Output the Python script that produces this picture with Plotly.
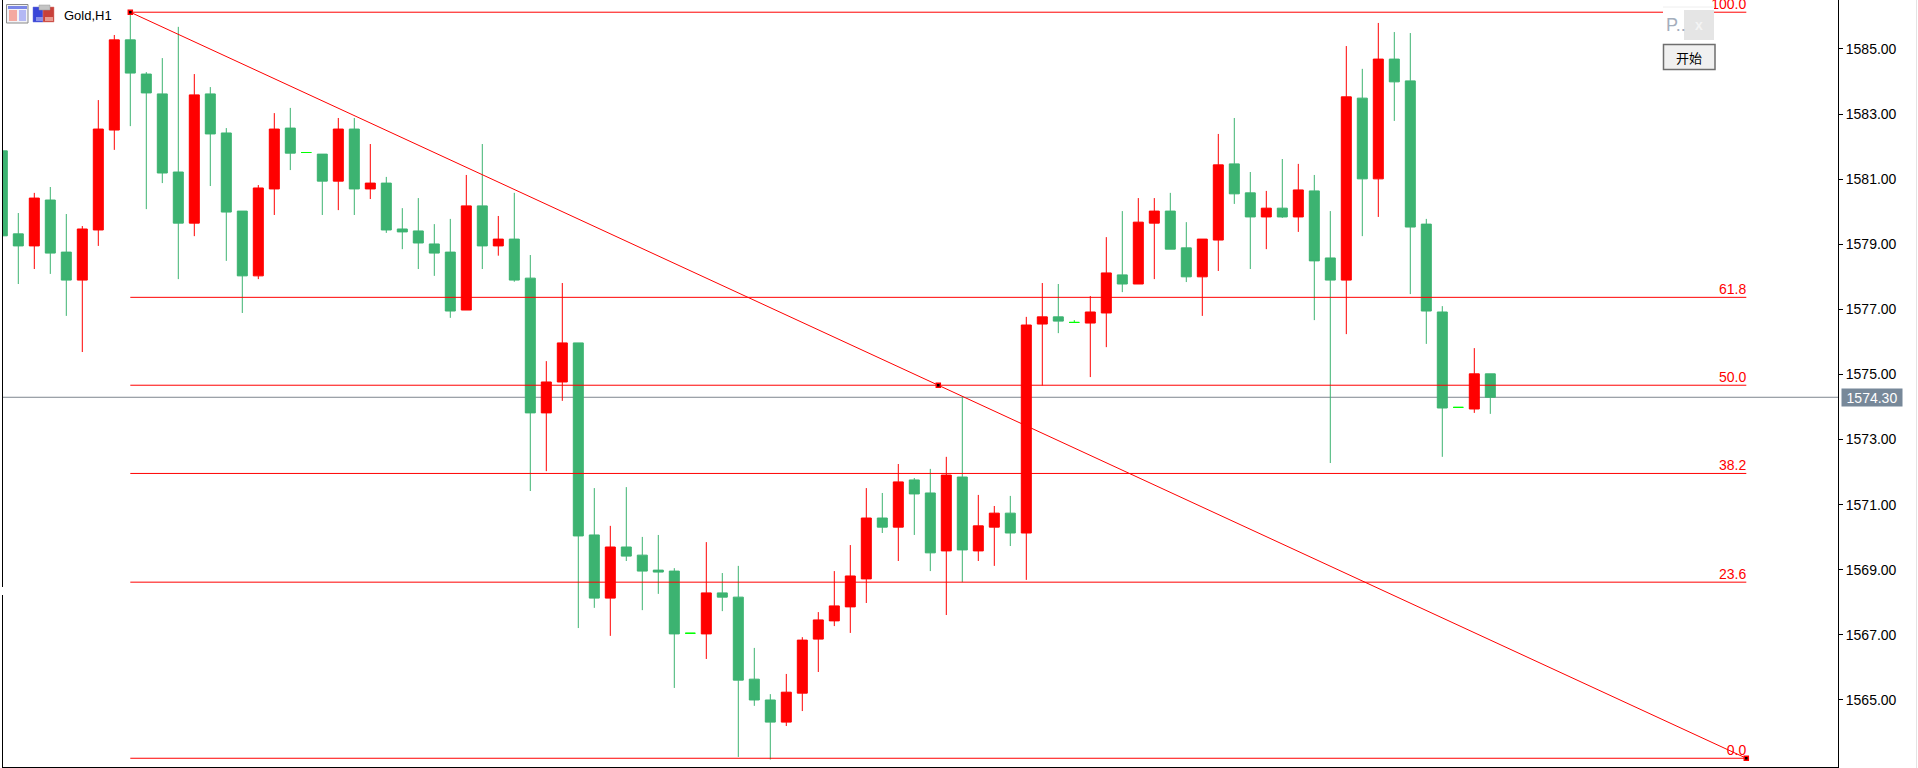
import plotly.graph_objects as go

# ---------- data ----------
bar_open = [1581.87,1579.32,1578.95,1580.36,1578.76,1577.90,1579.44,1582.51,1585.28,1584.23,
            1583.62,1581.22,1579.65,1583.62,1582.42,1580.02,1578.03,1580.70,1582.57,1581.82,
            1581.77,1580.94,1582.54,1580.70,1580.88,1579.47,1579.41,1579.01,1578.76,1576.98,
            1580.18,1578.95,1579.16,1577.96,1573.82,1574.77,1575.97,1570.07,1568.13,1569.70,
            1569.45,1568.99,1568.96,1567.05,1567.03,1568.29,1568.16,1565.64,1565.00,1564.32,
            1565.21,1566.87,1567.43,1567.86,1568.72,1570.59,1570.31,1571.76,1571.36,1569.58,
            1571.85,1569.58,1570.31,1570.74,1570.13,1576.55,1576.77,1576.60,1576.58,1576.89,
            1578.06,1577.78,1579.65,1580.02,1578.89,1578.00,1579.13,1581.47,1580.58,1579.84,
            1580.11,1579.84,1580.64,1578.58,1577.90,1583.49,1581.01,1584.69,1584.02,1579.62,
            1576.92,1573.99,1573.94,1575.02]
bar_high = [1581.87,1579.96,1580.58,1580.76,1579.93,1579.56,1583.43,1585.43,1586.13,1584.29,
            1584.72,1585.68,1584.23,1583.83,1582.57,1580.02,1580.82,1583.03,1583.19,1581.82,
            1581.77,1582.88,1582.88,1582.08,1581.07,1580.11,1580.42,1579.62,1579.78,1581.13,
            1582.08,1579.87,1580.58,1578.67,1575.41,1577.81,1575.97,1571.51,1570.35,1571.54,
            1570.01,1570.07,1569.05,1567.05,1569.85,1568.90,1569.12,1566.60,1565.18,1565.80,
            1566.93,1567.70,1568.96,1569.76,1571.51,1571.36,1572.25,1571.82,1572.10,1572.47,
            1574.32,1571.30,1570.96,1571.27,1576.77,1577.81,1577.78,1576.67,1577.41,1579.22,
            1580.02,1580.42,1580.42,1580.58,1579.68,1579.16,1582.39,1582.88,1581.22,1580.64,
            1581.62,1581.47,1581.13,1580.02,1585.09,1584.39,1585.80,1585.52,1585.49,1579.78,
            1577.10,1573.99,1575.81,1575.02]
bar_low = [1579.26,1577.78,1578.24,1578.09,1576.80,1575.69,1578.95,1581.90,1582.63,1580.08,
           1580.88,1577.93,1579.25,1580.79,1578.49,1576.89,1577.93,1579.90,1581.28,1581.82,
           1579.90,1580.05,1579.90,1580.39,1579.35,1578.85,1578.24,1578.03,1576.74,1576.98,
           1578.24,1578.65,1577.85,1571.42,1572.03,1574.19,1567.21,1567.83,1566.97,1569.27,
           1567.76,1568.26,1565.37,1567.05,1566.26,1567.73,1563.25,1564.82,1563.17,1564.20,
           1564.66,1565.86,1567.27,1567.06,1567.98,1570.13,1569.27,1570.07,1568.96,1567.61,
           1568.62,1569.27,1569.12,1569.73,1568.69,1574.66,1576.27,1576.60,1574.92,1575.84,
           1577.53,1577.78,1577.93,1578.85,1577.84,1576.80,1578.18,1580.24,1578.24,1578.85,
           1579.81,1579.38,1576.67,1572.28,1576.24,1579.25,1579.84,1582.79,1577.47,1575.94,
           1572.47,1573.99,1573.82,1573.79]
bar_close = [1579.26,1578.95,1580.42,1578.73,1577.90,1579.47,1582.54,1585.28,1584.26,1583.65,
             1581.19,1579.65,1583.59,1582.39,1579.99,1578.03,1580.73,1582.54,1581.80,1581.82,
             1580.94,1582.54,1580.70,1580.88,1579.44,1579.38,1579.04,1578.73,1576.95,1580.18,
             1578.95,1579.16,1577.90,1573.82,1574.77,1575.97,1570.04,1568.13,1569.70,1569.42,
             1568.96,1568.93,1567.03,1567.05,1568.29,1568.16,1565.61,1565.00,1564.32,1565.24,
             1566.84,1567.46,1567.89,1568.81,1570.59,1570.31,1571.70,1571.33,1569.52,1571.91,
             1569.61,1570.35,1570.74,1570.13,1576.52,1576.77,1576.64,1576.60,1576.92,1578.12,
             1577.78,1579.68,1580.02,1578.85,1578.00,1579.16,1581.44,1580.55,1579.84,1580.11,
             1579.84,1580.67,1578.49,1577.90,1583.53,1581.01,1584.69,1583.99,1579.53,1576.95,
             1573.97,1573.99,1575.02,1574.30]

fib_labels = ["100.0", "61.8", "50.0", "38.2", "23.6", "0.0"]
fib_values = [1586.13, 1577.37, 1574.67, 1571.96, 1568.62, 1563.21]
fib_start_bar = 8
fib_mid_bar = 58.5
fib_end_bar = 109
y_ticks = [1565, 1567, 1569, 1571, 1573, 1575, 1577, 1579, 1581, 1583, 1585]
current_price = 1574.30

RED = "#FF0000"
GREEN = "#3CB371"
LIME = "#00FF00"
FONT = "Liberation Sans"

# page geometry
W, H = 1918, 768
ML, MR, MT, MB = 3, 80, 0, 1
PW, PH = W - ML - MR, H - MT - MB


def px(x):
    return (x - ML) / PW


def py(y):
    return 1 - (y - MT) / PH


bars = list(range(len(bar_open)))
regular = [i for i in bars if bar_open[i] != bar_close[i]]
doji = [i for i in bars if bar_open[i] == bar_close[i]]

fig = go.Figure()
fig.add_trace(go.Candlestick(
    x=regular,
    open=[bar_open[i] for i in regular], high=[bar_high[i] for i in regular],
    low=[bar_low[i] for i in regular], close=[bar_close[i] for i in regular],
    increasing=dict(line=dict(color=RED, width=1), fillcolor=RED),
    decreasing=dict(line=dict(color=GREEN, width=1), fillcolor=GREEN),
    whiskerwidth=0, hoverinfo="skip", showlegend=False))
fig.add_trace(go.Candlestick(
    x=doji,
    open=[bar_open[i] for i in doji], high=[bar_high[i] for i in doji],
    low=[bar_low[i] for i in doji], close=[bar_close[i] for i in doji],
    increasing=dict(line=dict(color=LIME, width=1), fillcolor=LIME),
    decreasing=dict(line=dict(color=LIME, width=1), fillcolor=LIME),
    whiskerwidth=0, hoverinfo="skip", showlegend=False))

# Fibonacci levels
for label, value in zip(fib_labels, fib_values):
    fig.add_trace(go.Scatter(x=[fib_start_bar, fib_end_bar], y=[value, value], mode="lines",
                             line=dict(color=RED, width=1), hoverinfo="skip", showlegend=False))
fig.add_trace(go.Scatter(x=[fib_end_bar] * len(fib_values), y=fib_values, mode="text",
                         text=fib_labels, textposition="top left",
                         textfont=dict(family=FONT, size=14, color=RED),
                         hoverinfo="skip", showlegend=False))
# trend line and its anchors
fig.add_trace(go.Scatter(x=[fib_start_bar, fib_end_bar], y=[fib_values[0], fib_values[-1]], mode="lines",
                         line=dict(color=RED, width=1), hoverinfo="skip", showlegend=False))
fig.add_trace(go.Scatter(x=[fib_start_bar, fib_mid_bar, fib_end_bar],
                         y=[fib_values[0], fib_values[2], fib_values[-1]], mode="markers",
                         marker=dict(symbol="square", size=4, color="#000000",
                                     line=dict(color=RED, width=1.5)),
                         hoverinfo="skip", showlegend=False))

shapes = []


def rect(x0, y0, x1, y1, fill, line=None, lw=0, layer="above"):
    shapes.append(dict(type="rect", xref="paper", yref="paper", layer=layer,
                       x0=px(x0), x1=px(x1), y0=py(y1), y1=py(y0), fillcolor=fill,
                       line=dict(color=line or fill, width=lw)))


def vline(x, y0, y1, color, lw=1):
    shapes.append(dict(type="line", xref="paper", yref="paper", x0=px(x), x1=px(x),
                       y0=py(y0), y1=py(y1), line=dict(color=color, width=lw)))


# current price line sits behind the candles
shapes.append(dict(type="line", xref="paper", yref="y", x0=0, x1=1, y0=current_price, y1=current_price,
                   layer="below", line=dict(color="#7F878F", width=1)))
# left spine with its gap, right edge rule
vline(2.5, 0, 587, "#000000", 1)
vline(2.5, 595, 768, "#000000", 1)
vline(1916.5, 0, 768, "#E4E4E4", 1)

# chart-window icons
rect(6.5, 4.5, 28, 23, "#F2F2F6", "#8A8A8A", 1)
rect(8, 6, 27, 9, "#7A86E8")
rect(9, 10, 17, 21, "#F4A9A0")
rect(19, 10, 26, 21, "#B4B8F4")
rect(33, 7, 43, 22, "#3A46D8", "#6A70D8", 0.5)
rect(43, 7, 54, 22, "#C8403A", "#D88078", 0.5)
rect(39, 5, 50, 10, "#C4C4C4", "#9A9A9A", 0.5)
rect(36, 17, 43, 21, "#8A90E8")
rect(45, 17, 53, 21, "#E89A90")

# small panel and button
rect(1663, 7, 1714, 41, "#FFFFFF")
shapes.append(dict(type="line", xref="paper", yref="paper", x0=px(1663), x1=px(1714),
                   y0=py(7), y1=py(7), line=dict(color="#EEEEEE", width=1)))
rect(1684, 10, 1714, 40, "#E5E5E5")
rect(1663.5, 44.5, 1715, 69.5, "#F0F0F0", "#6E6E6E", 1.5)

annotations = [
    dict(xref="paper", yref="paper", x=px(62), y=py(15), text="Gold,H1", showarrow=False, xanchor="left",
         yanchor="middle", font=dict(family=FONT, size=13, color="#000000")),
    dict(xref="paper", yref="paper", x=px(1664), y=py(25), text="P..", showarrow=False, xanchor="left",
         yanchor="middle", font=dict(family=FONT, size=18, color="#A4AEBC")),
    dict(xref="paper", yref="paper", x=px(1699), y=py(25), text="<b>x</b>", showarrow=False, xanchor="center",
         yanchor="middle", font=dict(family=FONT, size=14, color="#F4F4F4")),
    dict(xref="paper", yref="paper", x=px(1689), y=py(57), text="开始", showarrow=False, xanchor="center",
         yanchor="middle", font=dict(family="Noto Sans CJK SC", size=13, color="#000000")),
    dict(xref="paper", yref="y", x=px(1872), y=current_price, text="%.2f" % current_price, showarrow=False,
         width=60, height=17, bgcolor="#778899", borderpad=0, xanchor="center", yanchor="middle",
         font=dict(family=FONT, size=14, color="#FFFFFF")),
]

fig.update_layout(
    width=W, height=H, autosize=False,
    margin=dict(l=ML, r=MR, t=MT, b=MB, pad=0),
    paper_bgcolor="#FFFFFF", plot_bgcolor="#FFFFFF",
    showlegend=False, boxmode="overlay", boxgap=0.375, boxgroupgap=0, dragmode=False,
    shapes=shapes, annotations=annotations,
    xaxis=dict(range=[(ML - 2.3) / 16, (W - MR - 2.3) / 16], showgrid=False, zeroline=False,
               showticklabels=False, ticks="", showline=True, linecolor="#000000", linewidth=1,
               rangeslider=dict(visible=False), fixedrange=True),
    yaxis=dict(range=[1586.505 - 767 / 32.55, 1586.505], side="right", showgrid=False, zeroline=False,
               tickvals=y_ticks, ticktext=["%.2f" % v for v in y_ticks], ticks="outside", ticklen=4,
               tickcolor="#000000", tickwidth=1, showline=True, linecolor="#000000", linewidth=1,
               tickfont=dict(family=FONT, size=14, color="#000000"), fixedrange=True),
)

fig.write_html("out.html", config=dict(displayModeBar=False),
               post_script="document.body.style.margin='0';document.body.style.overflow='hidden';")
